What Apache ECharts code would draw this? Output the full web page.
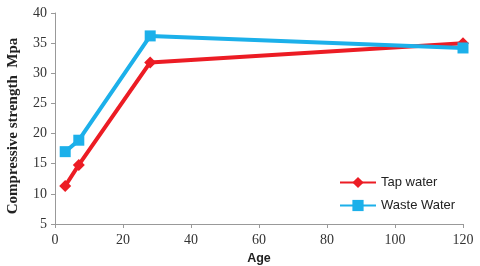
<!DOCTYPE html>
<html><head><meta charset="utf-8">
<script src="https://cdn.jsdelivr.net/npm/echarts@6/dist/echarts.min.js"></script>
<style>html,body{margin:0;padding:0;background:#fff}#c{width:480px;height:266px}</style>
</head><body><div id="c"></div>
<script>
var ages = [3, 7, 28, 120];
var tapWater = [11.3, 14.8, 31.8, 35.0];
var wasteWater = [17.0, 18.9, 36.2, 34.2];
var seriesNames = ['Tap water', 'Waste Water'];

function pairs(xs, ys){ return xs.map(function(x,i){ return [x, ys[i]]; }); }

var chart = echarts.init(document.getElementById('c'));
chart.setOption({
  animation: false,
  backgroundColor: '#fff',
  grid: {left: 55, right: 17, top: 13, bottom: 42, containLabel: false, outerBoundsMode: 'none'},
  legend: {
    orient: 'vertical', left: 334, top: 171, itemGap: 10,
    itemWidth: 36, itemHeight: 14,
    textStyle: {fontFamily: 'Liberation Sans', fontSize: 13, color: '#222'},
    data: seriesNames
  },
  xAxis: {
    type: 'value', min: 0, max: 120, interval: 20,
    name: 'Age', nameLocation: 'middle', nameGap: 25,
    nameTextStyle: {fontFamily: 'Liberation Sans', fontWeight: 'bold', fontSize: 12.5, color: '#222'},
    axisLine: {lineStyle: {color: '#999'}},
    axisTick: {show: true, length: 4, lineStyle: {color: '#999'}},
    axisLabel: {fontFamily: 'Liberation Serif', fontSize: 14, color: '#333', margin: 9},
    splitLine: {show: false}
  },
  yAxis: {
    type: 'value', min: 5, max: 40, interval: 5,
    name: 'Compressive strength  Mpa', nameLocation: 'middle', nameGap: 34, nameRotate: 90,
    nameTextStyle: {fontFamily: 'Liberation Serif', fontWeight: 'bold', fontSize: 15, color: '#222', padding: [0, 15, 0, 0]},
    axisLine: {show: true, lineStyle: {color: '#999'}},
    axisTick: {show: true, length: 4, lineStyle: {color: '#999'}},
    axisLabel: {fontFamily: 'Liberation Serif', fontSize: 14, color: '#333', margin: 8},
    splitLine: {show: false}
  },
  series: [
    {name: seriesNames[0], type: 'line', data: pairs(ages, tapWater),
     symbol: 'diamond', symbolSize: 12, color: '#ec1c24',
     lineStyle: {width: 4, color: '#ec1c24'}, itemStyle: {color: '#ec1c24'}},
    {name: seriesNames[1], type: 'line', data: pairs(ages, wasteWater),
     symbol: 'rect', symbolSize: 11, color: '#1cb0ea',
     lineStyle: {width: 4, color: '#1cb0ea'}, itemStyle: {color: '#1cb0ea'}}
  ]
});
</script></body></html>
